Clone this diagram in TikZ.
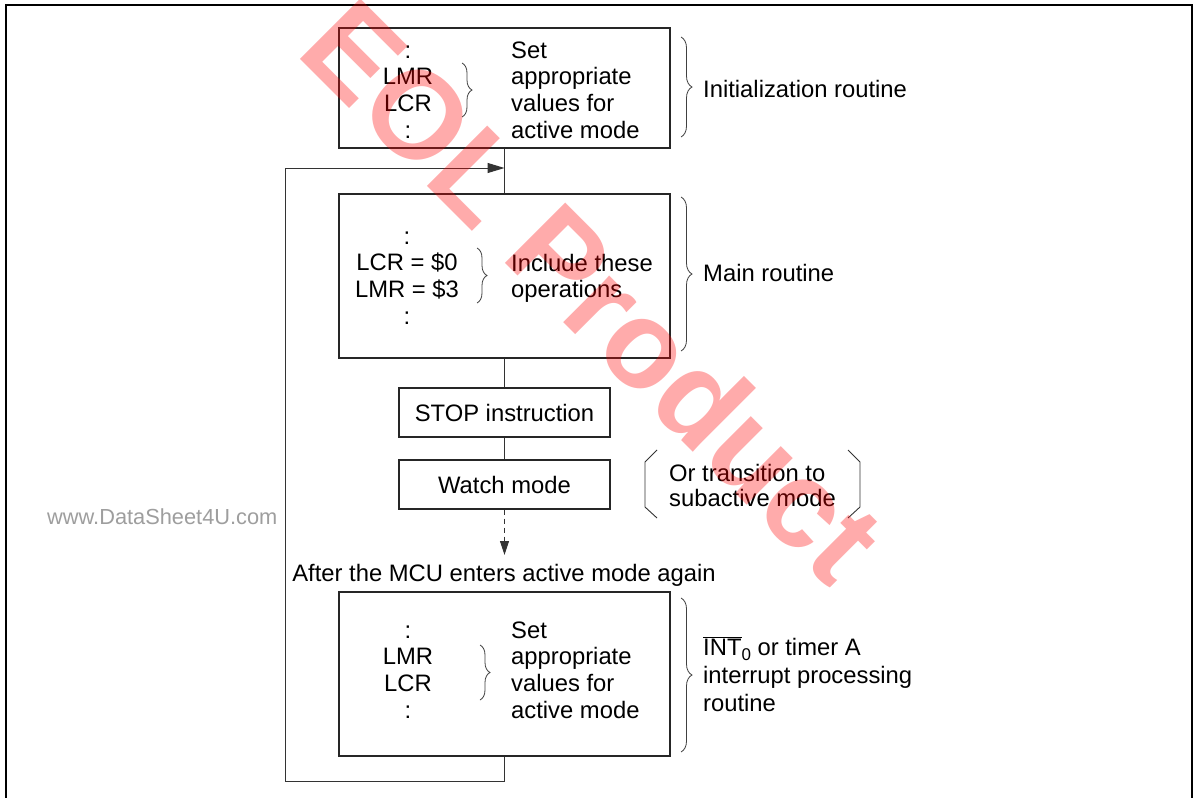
\documentclass[tikz,border=0pt]{standalone}
\usepackage{fontspec}
\setmainfont{Liberation Sans}
\usetikzlibrary{decorations.pathreplacing,arrows.meta}
\newcommand\mycolc[1]{\begin{tabular}[t]{@{}c@{}}#1\end{tabular}}
\newcommand\mycoll[1]{\begin{tabular}[t]{@{}l@{}}#1\end{tabular}}
\begin{document}
\begin{tikzpicture}[x=1pt,y=1pt,
  box/.style={draw=black!85, line width=1.2pt, minimum width=331pt, inner sep=0pt},
  smallbox/.style={box, minimum width=211pt, minimum height=49pt},
  conn/.style={draw=black!80, line width=1pt},
  brc/.style={draw=black!75, line width=0.8pt, decorate, decoration={brace, amplitude=#1}},
  lbl/.style={inner sep=0pt, font=\fontsize{23.8}{26.7}\selectfont},
]
\useasboundingbox (0,0) rectangle (1200,-798);
\fill[white] (0,0) rectangle (1200,-798);
% frame
\draw[line width=1.6pt] (6,-798) -- (6,-5) -- (1192,-5) -- (1192,-798);

% boxes
\node[box, minimum height=120pt] (b1) at (504.5,-88) {};
\node[box, minimum height=164pt] (b2) at (504.5,-276) {};
\node[smallbox, lbl] (stop) at (504.5,-412.5) {STOP instruction};
\node[smallbox, lbl] (watch) at (504.5,-484.5) {Watch mode};
\node[box, minimum height=164pt] (b3) at (504.5,-674) {};

% box 1 contents
\node[lbl, anchor=base] (c1) at (408,-58) {\mycolc{:\\LMR\\LCR\\:}};
\node[lbl, anchor=base west] (t1) at (511,-58) {\mycoll{Set\\appropriate\\values for\\active mode}};
\draw[brc=10pt] (462,-63) -- (462,-117);

% box 2 contents
\node[lbl, anchor=base] (c2) at (407,-244) {\mycolc{:\\LCR = \$0\\LMR = \$3\\:}};
\node[lbl, anchor=base west] (t2) at (511,-271) {\mycoll{Include these\\operations}};
\draw[brc=10pt] (477,-248) -- (477,-303);

% box 3 contents
\node[lbl, anchor=base] (c3) at (408,-638) {\mycolc{:\\LMR\\LCR\\:}};
\node[lbl, anchor=base west] (t3) at (511,-638) {\mycoll{Set\\appropriate\\values for\\active mode}};
\draw[brc=10pt] (480,-645) -- (480,-700);

% outer braces and labels
\draw[brc=11pt] (681,-37) -- (681,-137);
\draw[brc=11pt] (681,-197) -- (681,-351);
\draw[brc=11pt] (681,-598) -- (681,-752);
\node[lbl, anchor=base west] (l1) at (703,-97) {Initialization routine};
\node[lbl, anchor=base west] (l2) at (703,-281.5) {Main routine};
\node[lbl, anchor=base west] (l3) at (703,-655) {\mycoll{$\overline{\hbox{INT}}$\raisebox{-5pt}{\fontsize{17}{17}\selectfont 0} or timer A\\[1.3pt]interrupt processing\\[1.3pt]routine}};

% bracket note
\draw[draw=black!80, line width=0.9pt] (657,-450) -- (645,-462) -- (645,-507) -- (657,-518);
\draw[draw=black!80, line width=0.9pt] (848,-450) -- (860,-462) -- (860,-507) -- (848,-518);
\node[lbl, anchor=base west] (or) at (669,-481) {\mycoll{Or transition to\\[-1.7pt]subactive mode}};

% connectors
\draw[conn] (b1.south) -- (b2.north);
\draw[conn] (b2.south) -- (stop.north);
\draw[conn] (stop.south) -- (watch.north);
\coordinate (tip) at (504.5,-555);
\draw[conn, dash pattern=on 5pt off 4pt, -{Triangle[length=14pt,width=9pt]}] (watch.south) -- (tip);
\node[lbl, anchor=base] (again) at (504,-581) {After the MCU enters active mode again};
\coordinate (lb) at (285,-781);
\coordinate (j) at (504.5,-168);
\draw[conn, -{Triangle[length=17pt,width=10pt]}] (b3.south) |- (lb) |- (j);

% side text
\node[anchor=base west, inner sep=0pt, text=black!38, font=\fontsize{21.8}{21.8}\selectfont] (www) at (47,-524) {www.DataSheet4U.com};

% watermark
\node[text=red, opacity=0.33, rotate=-45, inner sep=0pt, font=\fontsize{124}{124}\selectfont\bfseries] (eol) at (594,-290) {EOL Product};
\end{tikzpicture}
\end{document}
